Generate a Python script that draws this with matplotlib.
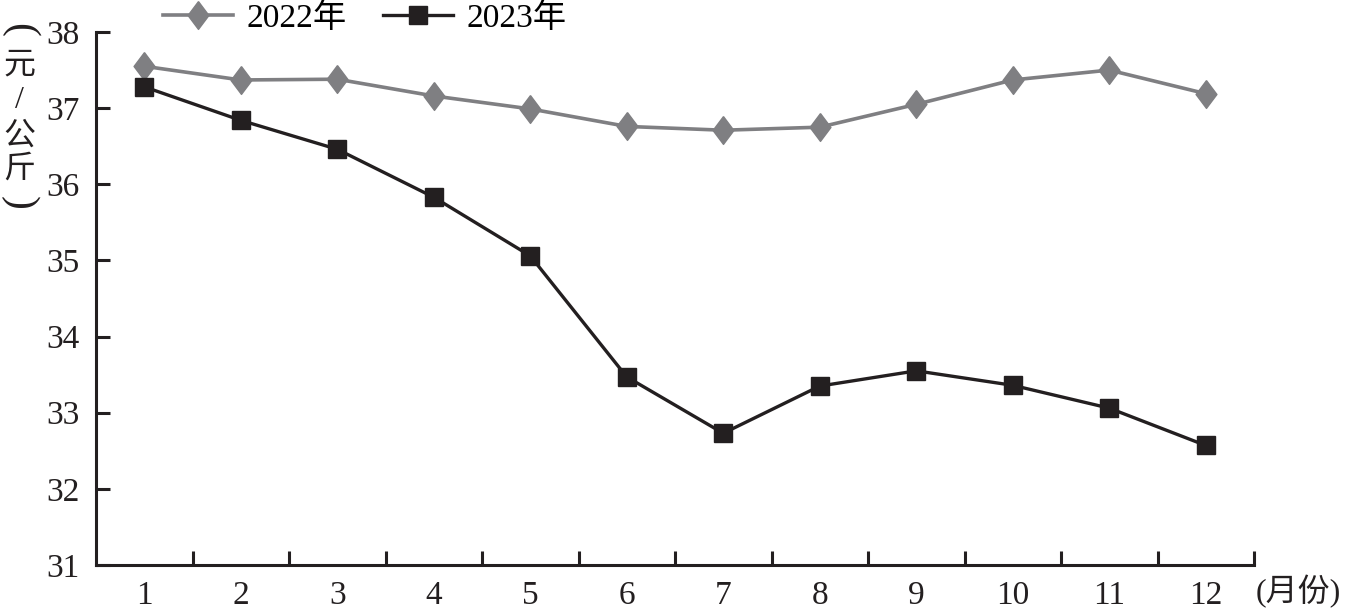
import matplotlib

matplotlib.use("Agg")
import matplotlib.pyplot as plt
from matplotlib.ticker import FixedLocator

plt.rcParams["font.family"] = ["Liberation Serif", "Noto Sans CJK SC"]

months = list(range(1, 13))
month_labels = [str(m) for m in months]
price_2022 = [37.55, 37.37, 37.38, 37.16, 36.99, 36.76, 36.71, 36.75, 37.05, 37.37, 37.50, 37.19]
price_2023 = [37.28, 36.84, 36.46, 35.83, 35.06, 33.47, 32.73, 33.35, 33.55, 33.36, 33.06, 32.57]
y_ticks = [31, 32, 33, 34, 35, 36, 37, 38]

GRAY = "#7f7f82"
BLACK = "#231f20"
# tall diamond, like the source chart's marker
DIAMOND = [(0, 1), (0.75, 0), (0, -1), (-0.75, 0), (0, 1)]

fig = plt.figure(figsize=(13.56, 6.12), dpi=100)
ax = fig.add_axes([96 / 1356, 1 - 565 / 612, (1254 - 96) / 1356, (565 - 32) / 612])

ax.plot(months, price_2022, color=GRAY, lw=2.6, marker=DIAMOND, ms=20,
        mec=GRAY, mfc=GRAY, label="2022年")
ax.plot(months, price_2023, color=BLACK, lw=2.4, marker="s", ms=13.5,
        mec=BLACK, mfc=BLACK, label="2023年")

ax.set_xlim(0.5, 12.5)
ax.set_ylim(31, 38)
ax.set_yticks(y_ticks)
ax.set_xticks(months)
ax.set_xticklabels(month_labels)
ax.xaxis.set_minor_locator(FixedLocator([m + 0.5 for m in months]))

for side in ("top", "right"):
    ax.spines[side].set_visible(False)
for side in ("left", "bottom"):
    ax.spines[side].set_linewidth(2.2)
    ax.spines[side].set_color(BLACK)

ax.tick_params(axis="x", which="major", length=0, pad=11, labelsize=24, colors=BLACK)
ax.tick_params(axis="x", which="minor", direction="in", length=10, width=2.2, color=BLACK)
ax.tick_params(axis="y", direction="in", length=10, width=2.2, pad=12,
               labelsize=24, colors=BLACK)

# unit labels; vertical one is stacked, brackets turned sideways
fig.text(1256 / 1356, 1 - 592 / 612, "(月份)", fontsize=23, color=BLACK,
         ha="left", va="center")
for ch, ypix in [("元", 66), ("/", 101), ("公", 137), ("斤", 170)]:
    fig.text(19 / 1356, 1 - ypix / 612, ch, fontsize=23, color=BLACK,
             ha="center", va="center")
fig.text(19 / 1356, 1 - 30 / 612, "(", fontsize=30, color=BLACK,
         ha="center", va="center", rotation=-90, rotation_mode="anchor")
fig.text(19 / 1356, 1 - 203 / 612, ")", fontsize=30, color=BLACK,
         ha="center", va="center", rotation=-90, rotation_mode="anchor")

fig.legend(loc="center left", bbox_to_anchor=(163 / 1356, 1 - 18 / 612), ncol=2,
           frameon=False, fontsize=24, handlelength=2.1, handletextpad=0.4,
           columnspacing=1.1, borderaxespad=0, borderpad=0)

fig.savefig("out.png", dpi=100)
